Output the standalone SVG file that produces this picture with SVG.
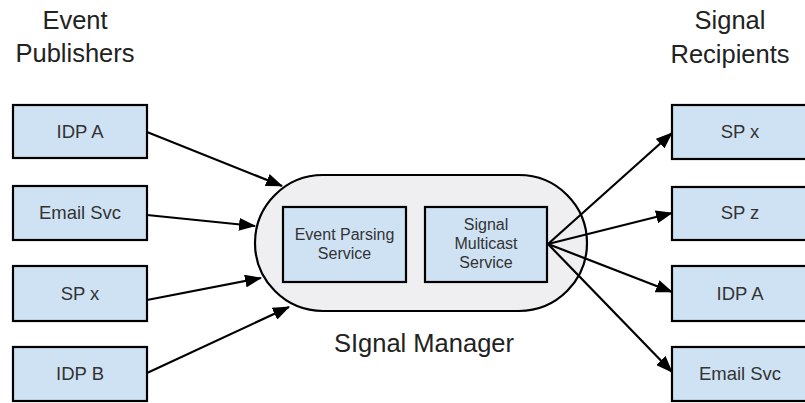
<svg xmlns="http://www.w3.org/2000/svg" width="805" height="403" viewBox="0 0 805 403">
  <style>
    .box { fill: #cfe2f3; stroke: #000; stroke-width: 2.2; }
    .pill { fill: #efeff1; stroke: #000; stroke-width: 2.2; }
    .lbl { font-family: "Liberation Sans", Arial, sans-serif; font-size: 18.5px; fill: #333; text-anchor: middle; }
    .small { font-size: 16px; }
    .head { font-family: "Liberation Sans", Arial, sans-serif; font-size: 25.5px; fill: #222; text-anchor: middle; }
    .edge { stroke: #000; stroke-width: 2.2; fill: none; marker-end: url(#arrow); }
  </style>
  <defs>
    <marker id="arrow" markerUnits="userSpaceOnUse" markerWidth="17" markerHeight="13" refX="16" refY="6.5" orient="auto">
      <path d="M0,0 L17,6.5 L0,13 Z" fill="#000"/>
    </marker>
  </defs>

  <rect width="805" height="403" fill="#fff"/>

  <!-- column headings -->
  <text class="head" x="75" y="29">Event</text>
  <text class="head" x="75" y="62">Publishers</text>
  <text class="head" x="730" y="29">Signal</text>
  <text class="head" x="730" y="63">Recipients</text>

  <!-- signal manager -->
  <g id="signal-manager">
    <rect class="pill" x="255" y="175" width="332" height="136" rx="68" ry="68"/>
    <text class="head" x="424" y="352">SIgnal Manager</text>
  </g>
  <g id="event-parsing">
    <rect class="box" x="283" y="207" width="123" height="75"/>
    <text class="lbl small" x="344.5" y="240">Event Parsing</text>
    <text class="lbl small" x="344.5" y="259">Service</text>
  </g>
  <g id="signal-multicast">
    <rect class="box" x="425" y="207" width="122" height="75"/>
    <text class="lbl small" x="486" y="230">Signal</text>
    <text class="lbl small" x="486" y="249">Multicast</text>
    <text class="lbl small" x="486" y="268">Service</text>
  </g>

  <!-- publishers -->
  <g id="pub-idp-a">
    <rect class="box" x="13" y="105" width="134" height="53"/>
    <text class="lbl" x="80" y="138">IDP A</text>
  </g>
  <g id="pub-email-svc">
    <rect class="box" x="13" y="186" width="134" height="54"/>
    <text class="lbl" x="80" y="219">Email Svc</text>
  </g>
  <g id="pub-sp-x">
    <rect class="box" x="13" y="266" width="134" height="55"/>
    <text class="lbl" x="80" y="300">SP x</text>
  </g>
  <g id="pub-idp-b">
    <rect class="box" x="13" y="347" width="134" height="54"/>
    <text class="lbl" x="80" y="380">IDP B</text>
  </g>

  <!-- recipients -->
  <g id="rcp-sp-x">
    <rect class="box" x="672" y="105" width="138" height="54"/>
    <text class="lbl" x="740" y="138">SP x</text>
  </g>
  <g id="rcp-sp-z">
    <rect class="box" x="672" y="187" width="138" height="53"/>
    <text class="lbl" x="740" y="219">SP z</text>
  </g>
  <g id="rcp-idp-a">
    <rect class="box" x="672" y="266" width="138" height="55"/>
    <text class="lbl" x="740" y="300">IDP A</text>
  </g>
  <g id="rcp-email-svc">
    <rect class="box" x="672" y="347" width="138" height="54"/>
    <text class="lbl" x="740" y="380">Email Svc</text>
  </g>

  <!-- connectors -->
  <g id="connectors">
    <line class="edge" x1="147" y1="132" x2="282" y2="186"/>
    <line class="edge" x1="147" y1="215" x2="255" y2="226"/>
    <line class="edge" x1="147" y1="300" x2="261" y2="278"/>
    <line class="edge" x1="147" y1="373" x2="289" y2="307"/>
    <line class="edge" x1="548" y1="244" x2="672" y2="133"/>
    <line class="edge" x1="548" y1="244" x2="672" y2="213"/>
    <line class="edge" x1="548" y1="244" x2="672" y2="292"/>
    <line class="edge" x1="548" y1="244" x2="672" y2="372"/>
  </g>
</svg>
